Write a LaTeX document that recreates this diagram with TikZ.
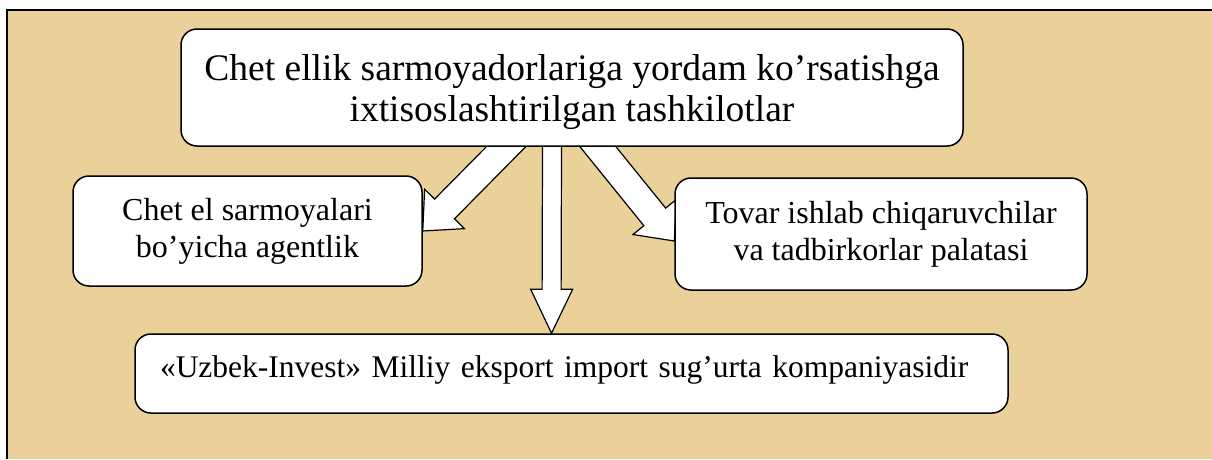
\documentclass[tikz,border=0pt]{standalone}
\usepackage{fontspec}
\setmainfont{Liberation Serif}
\usetikzlibrary{calc,backgrounds}
\definecolor{papyrus}{RGB}{234,209,154}
\tikzset{
  boxnode/.style = {draw=black, fill=white, line width=1.5pt, rounded corners=16pt, align=center, inner sep=0pt},
  box_big/.style = {boxnode, font=\fontsize{37.5}{41}\selectfont},
  box_small/.style = {boxnode, font=\fontsize{32}{37}\selectfont},
  fat_arr/.style = {draw=black, fill=white, line width=1.2pt, line join=miter}
}
% block arrow: tail, tip, half shaft, half head, head length
\newcommand\fatarrow[5]{%
  \coordinate (hb) at ($(#2)!#5!(#1)$);
  \draw[fat_arr] ($(#1)!#3!90:(#2)$) -- ($(hb)!#3!90:(#2)$) -- ($(hb)!#4!90:(#2)$) -- (#2)
    -- ($(hb)!#4!-90:(#2)$) -- ($(hb)!#3!-90:(#2)$) -- ($(#1)!#3!-90:(#2)$) -- cycle;
}

\begin{document}
\begin{tikzpicture}[x=1pt,y=-1pt]
	\path[use as bounding box] (0,0) rectangle (1212,459);
	\begin{pgfonlayer}{background}
		\fill[white] (0,0) rectangle (1212,459);
		\fill[papyrus] (7,10) rectangle (1212,459);
		\draw[line width=1.5pt] (1212,10) -- (7,10) -- (7,459);
	\end{pgfonlayer}

	\node [box_big, minimum width=782pt, minimum height=117pt] (org) at (572,87.5)
		{\rule{0pt}{35pt}Chet ellik sarmoyadorlariga yordam ko’rsatishga\\ixtisoslashtirilgan tashkilotlar};
	\node [box_small, minimum width=349pt, minimum height=110pt] (agency) at (247.5,231)
		{Chet el sarmoyalari\\bo’yicha agentlik};
	\node [box_small, minimum width=412pt, minimum height=112pt] (chamber) at (881,234)
		{Tovar ishlab chiqaruvchilar\\va tadbirkorlar palatasi};
	\node [box_small, font=\fontsize{31.5}{37}\selectfont, align=left, text width=823pt,
		inner xsep=25pt, minimum height=79pt, text height=24pt, text depth=17pt]
		(insurer) at (571.5,373.5)
		{«Uzbek-Invest» Milliy eksport import sug’urta kompaniyasidir};

	% arrows out of the top box, tails hidden under it
	\coordinate (b_left) at ($(org.south)+(-66,0)$);
	\coordinate (b_mid) at ($(org.south)+(-20,0)$);
	\coordinate (b_right) at ($(org.south)+(26,0)$);
	\coordinate (h_mid) at ($(insurer.north)+(-20,0)$);
	\coordinate (h_right) at ($(chamber.west)+(0,7)$);
	\coordinate (t_left) at ($(agency.east)!1.3!(b_left)$);
	\coordinate (t_mid) at ($(h_mid)!1.15!(b_mid)$);
	\coordinate (t_right) at ($(h_right)!1.3!(b_right)$);
	\begin{pgfonlayer}{background}
		\fatarrow{t_left}{agency.east}{14pt}{28pt}{31pt}
		\fatarrow{t_mid}{h_mid}{9.5pt}{21pt}{44pt}
		\fatarrow{t_right}{h_right}{14pt}{28pt}{31pt}
	\end{pgfonlayer}
\end{tikzpicture}
\end{document}
